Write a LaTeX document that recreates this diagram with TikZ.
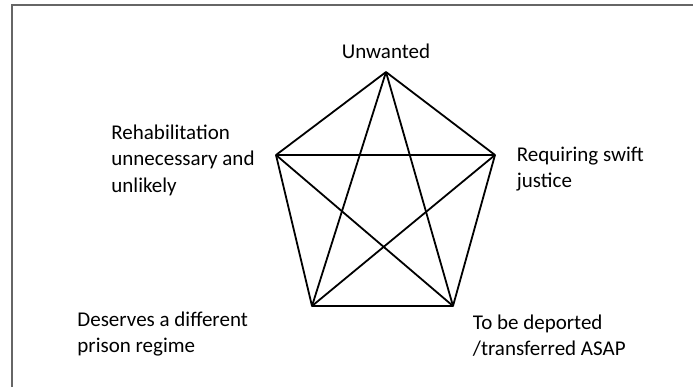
\documentclass[tikz,border=0pt]{standalone}
\usepackage{fontspec}
\setmainfont{Carlito}
\usetikzlibrary{positioning}

\begin{document}
\begin{tikzpicture}[
  x=0.5pt, y=-0.5pt,
  label/.style={anchor=base west, align=left, inner sep=0pt,
                font=\fontsize{10.5}{13.2}\selectfont},
  edge/.style={line width=0.9pt, line join=round}
]
  \useasboundingbox (0,0) rectangle (693,387);
  % frame
  \draw[black!60, line width=0.8pt] (12,387) -- (12,5) -- (693,5);

  % corners of the pentagon
  \coordinate (unw) at (386,72);
  \coordinate (reh) at (276,155);
  \coordinate (swift) at (495,155);
  \coordinate (regime) at (312,306);
  \coordinate (deport) at (453,306);

  % labels (base = last line)
  \node[label, anchor=base] (unwlab) at (386,58.5) {Unwanted};
  \node[label] (rehlab) at (111,192) {Rehabilitation\\unnecessary and\\unlikely};
  \node[label] (swiftlab) at (516.5,187.5) {Requiring swift\\justice};
  \node[label] (regimelab) at (77,352.5) {Deserves a different\\prison regime};
  \node[label] (deportlab) at (472.5,355.5) {To be deported\\/transferred ASAP};

  \draw[edge] (unw) -- (swift) -- (deport) -- (regime) -- (reh) -- cycle;
  \draw[edge] (unw) -- (deport);
  \draw[edge] (unw) -- (regime);
  \draw[edge] (reh) -- (swift);
  \draw[edge] (reh) -- (deport);
  \draw[edge] (swift) -- (regime);
\end{tikzpicture}
\end{document}
